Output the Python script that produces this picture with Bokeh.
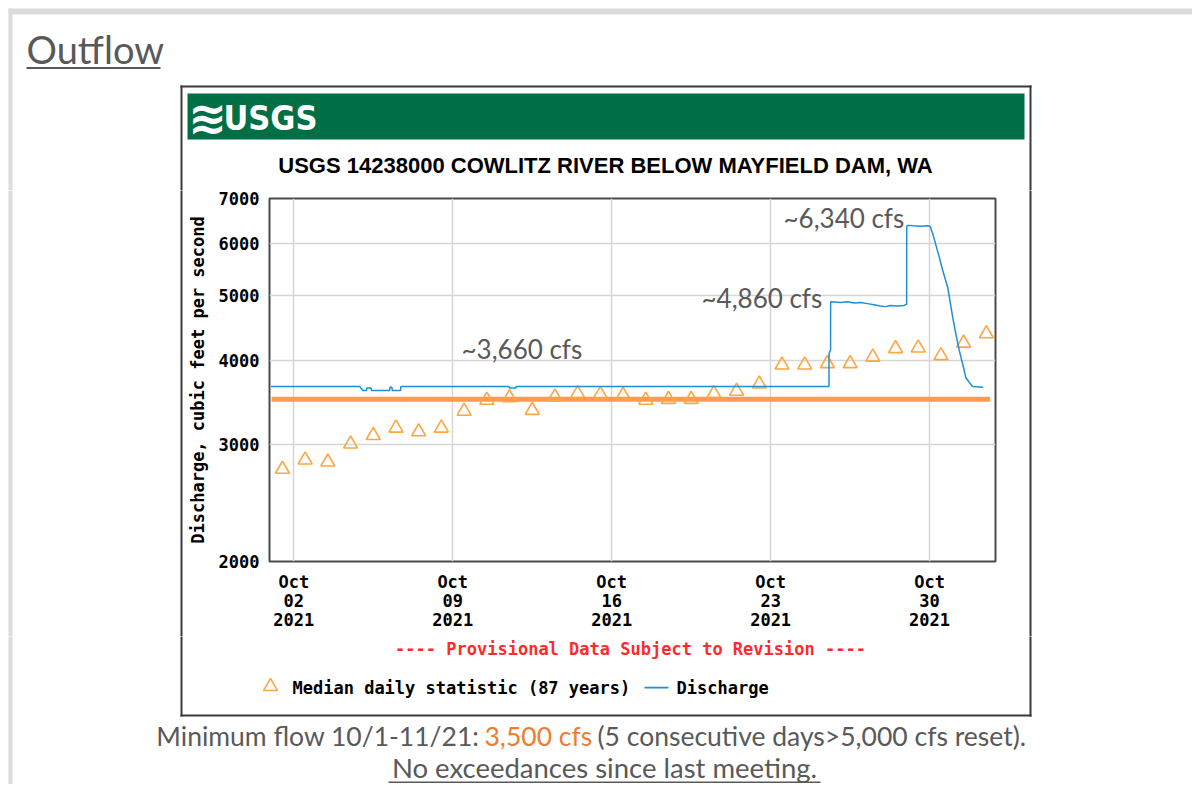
import pandas as pd
from bokeh.plotting import figure
from bokeh.layouts import column, row
from bokeh.models import (Label, FixedTicker, DatetimeTickFormatter, NumeralTickFormatter, Range1d,
                          Plot)
from bokeh.embed import file_html
from bokeh.resources import INLINE

# ---------------- data ----------------
median_dates = ["2021-10-01", "2021-10-02", "2021-10-03", "2021-10-04", "2021-10-05", "2021-10-06",
                "2021-10-07", "2021-10-08", "2021-10-09", "2021-10-10", "2021-10-11", "2021-10-12",
                "2021-10-13", "2021-10-14", "2021-10-15", "2021-10-16", "2021-10-17", "2021-10-18",
                "2021-10-19", "2021-10-20", "2021-10-21", "2021-10-22", "2021-10-23", "2021-10-24",
                "2021-10-25", "2021-10-26", "2021-10-27", "2021-10-28", "2021-10-29", "2021-10-30",
                "2021-10-31", "2021-11-01"]
median_cfs = [2750, 2840, 2820, 3000, 3090, 3170, 3130, 3170, 3360, 3490, 3520, 3370, 3530, 3570,
              3560, 3550, 3490, 3500, 3500, 3570, 3600, 3690, 3940, 3940, 3960, 3960, 4050, 4170,
              4180, 4070, 4250, 4390]

discharge_times = ["2021-10-01 00:00", "2021-10-04 21:35", "2021-10-04 22:50", "2021-10-05 01:10",
                   "2021-10-05 04:50", "2021-10-05 05:15", "2021-10-05 09:35", "2021-10-05 10:05",
                   "2021-10-06 05:15", "2021-10-06 05:45", "2021-10-06 07:40", "2021-10-06 08:10",
                   "2021-10-06 16:50", "2021-10-06 17:15", "2021-10-11 11:30", "2021-10-11 12:00",
                   "2021-10-11 18:40", "2021-10-11 19:10", "2021-10-25 13:40", "2021-10-25 13:45",
                   "2021-10-25 15:20", "2021-10-25 15:25", "2021-10-26 01:55", "2021-10-26 09:05",
                   "2021-10-26 16:05", "2021-10-26 23:15", "2021-10-27 06:15", "2021-10-27 13:10",
                   "2021-10-27 20:10", "2021-10-28 01:25", "2021-10-28 06:45", "2021-10-28 13:55",
                   "2021-10-28 20:55", "2021-10-28 23:45", "2021-10-28 23:50", "2021-10-29 01:10",
                   "2021-10-29 07:10", "2021-10-29 14:25", "2021-10-29 21:35", "2021-10-30 00:30",
                   "2021-10-30 03:20", "2021-10-30 10:20", "2021-10-30 13:55", "2021-10-30 19:10",
                   "2021-10-31 00:30", "2021-10-31 03:50", "2021-10-31 07:25", "2021-10-31 11:00",
                   "2021-10-31 14:25", "2021-10-31 18:00", "2021-10-31 21:35", "2021-11-01 08:40"]
discharge_cfs = [3660, 3660, 3640, 3610, 3610, 3640, 3640, 3610,
                 3610, 3650, 3650, 3610, 3610, 3660, 3660, 3640,
                 3640, 3660, 3660, 4100, 4150, 4900, 4890, 4900,
                 4880, 4890, 4870, 4850, 4830, 4820, 4840, 4830,
                 4840, 4860, 6360, 6380, 6370, 6360, 6370, 6360,
                 6200, 5710, 5460, 5150, 4640, 4380, 4140, 3950,
                 3770, 3710, 3660, 3650]

minflow_times = ["2021-10-01 00:30", "2021-11-01 16:00"]
minflow_cfs = [3500, 3500]

y_ticks = [2000, 3000, 4000, 5000, 6000, 7000]
x_tick_dates = ["2021-10-02", "2021-10-09", "2021-10-16", "2021-10-23", "2021-10-30"]
callout_text = ["~3,660 cfs", "~4,860 cfs", "~6,340 cfs"]

# ---------------- layout constants (page pixels) ----------------
PW, PH = 1192, 784          # whole page
FL, FR, FT, FB = 268, 995, 198, 561   # plot frame
MX0, MX1 = 184, 1005        # main figure horizontal extent
MY0, MY1 = 190, 636         # main figure vertical extent

MONO = "DejaVu Sans Mono"
SLIDE = "Lato"
GRAY = "#595959"
ORANGE_LINE = "#FF9955"
TRI = "#FFA640"
BLUE = "#1E8FD5"
HAS_FRAME_ALIGN = "frame_align" in Plot.properties()


def no_align(f):
    if HAS_FRAME_ALIGN:
        f.frame_align = False


# ---------------- main chart ----------------
p = figure(width=MX1 - MX0, height=MY1 - MY0, x_axis_type="datetime", y_axis_type="log",
           x_range=Range1d(pd.Timestamp("2021-09-30 22:20"), pd.Timestamp("2021-11-01 21:40")),
           y_range=Range1d(2000, 7000), title_location=None,
           output_backend="svg", toolbar_location=None,
           min_border_left=FL - MX0, min_border_right=MX1 - FR,
           min_border_top=FT - MY0, min_border_bottom=MY1 - FB)
no_align(p)
p.background_fill_color = "white"
p.border_fill_color = "white"
p.outline_line_color = "#4a4a4a"
p.outline_line_width = 2

for ax in (p.xaxis[0], p.yaxis[0]):
    ax.axis_line_color = None
    ax.major_tick_line_color = None
    ax.minor_tick_line_color = None
    ax.major_tick_out = 0
    ax.major_tick_in = 0
    ax.minor_tick_out = 0
    ax.minor_tick_in = 0
    ax.major_label_text_font = MONO
    ax.major_label_text_font_style = "bold"
    ax.major_label_text_font_size = "17px"
    ax.major_label_text_color = "black"

p.yaxis.ticker = FixedTicker(ticks=y_ticks)
p.yaxis.formatter = NumeralTickFormatter(format="0")
p.yaxis.major_label_standoff = 10
p.yaxis.axis_label = "Discharge, cubic feet per second"
p.yaxis.axis_label_text_font = MONO
p.yaxis.axis_label_text_font_style = "bold"
p.yaxis.axis_label_text_font_size = "17px"
p.yaxis.axis_label_text_color = "black"
p.yaxis.axis_label_standoff = 8

x_ticks_ms = [pd.Timestamp(d).value / 1e6 for d in x_tick_dates]
p.xaxis.ticker = FixedTicker(ticks=x_ticks_ms)
p.xaxis.formatter = DatetimeTickFormatter(days="%b\n%d\n%Y", months="%b\n%d\n%Y",
                                          hours="%b\n%d\n%Y")
p.xaxis.major_label_standoff = 10
p.xaxis.major_label_text_line_height = 0.97

p.ygrid.ticker = FixedTicker(ticks=y_ticks)
p.xgrid.ticker = FixedTicker(ticks=x_ticks_ms)
for g in (p.xgrid[0], p.ygrid[0]):
    g.grid_line_color = "#d6d6d6"
    g.grid_line_width = 1.5
    g.minor_grid_line_color = None

p.line(pd.to_datetime(minflow_times), minflow_cfs, line_color=ORANGE_LINE, line_width=5)
p.scatter(pd.to_datetime(median_dates) + pd.Timedelta(hours=12), median_cfs, marker="triangle",
          size=14, fill_color=None, line_color=TRI, line_width=1.6)
p.line(pd.to_datetime(discharge_times), discharge_cfs, line_color=BLUE, line_width=1.5)

# callouts inside the plot frame (screen units relative to frame)
for X, Y, t in [(460, 348, callout_text[0]), (700, 297, callout_text[1]), (782, 217, callout_text[2])]:
    p.add_layout(Label(x=X - FL, y=FB - Y, x_units="screen", y_units="screen", text=t,
                       text_font=SLIDE, text_font_size="26px", text_color=GRAY,
                       text_baseline="middle"))


# ---------------- decorative panels (page-pixel coordinates) ----------------
def decor(x0, x1, y0, y1):
    f = figure(width=x1 - x0, height=y1 - y0, x_range=Range1d(x0, x1), y_range=Range1d(y1, y0),
               output_backend="svg", toolbar_location=None, min_border=0, title_location=None,
               x_axis_location=None, y_axis_location=None)
    no_align(f)
    f.grid.visible = False
    f.outline_line_color = None
    f.background_fill_color = "white"
    f.border_fill_color = "white"
    return f


def rect(f, L, T, R, B, color):
    f.quad(left=[L], right=[R], top=[T], bottom=[B], fill_color=color, line_color=None)


def text(f, X, Y, t, size, color="black", font=MONO, style="normal", align="left",
         baseline="middle"):
    f.add_layout(Label(x=X, y=Y, text=t, text_font=font, text_font_size=f"{size}px",
                       text_font_style=style, text_color=color, text_align=align,
                       text_baseline=baseline))


BAND = "#dcdcdc"
BORDER = "#3a3a3a"
top = decor(0, PW, 0, MY0)
left = decor(0, MX0, MY0, MY1)
right = decor(MX1, PW, MY0, MY1)
bottom = decor(0, PW, MY1, PH)

# slide bands
rect(top, 8, 8, PW, 14, BAND)
for f in (top, left, bottom):
    rect(f, 8, 8, 12, PH, BAND)

# chart box border
rect(top, 180, 85, 1031, 87, BORDER)
for f in (top, left, bottom):
    rect(f, 180, 85, 182, 716, BORDER)
for f in (top, right, bottom):
    rect(f, 1029, 85, 1031, 716, BORDER)
rect(bottom, 180, 714, 1031, 716, BORDER)

# heading
text(top, 26, 48.5, "Outflow", 38, color=GRAY, font=SLIDE)
rect(top, 26, 66.5, 160, 68.5, GRAY)

# banner
rect(top, 187, 93, 1024, 139, "#006F45")
text(top, 207, 117, "\u224b", 46, color="white", font="DejaVu Sans", style="bold", align="center")
text(top, 223, 117, "USGS", 34, color="white",
     font="'DejaVu Sans Condensed', 'Liberation Sans', sans-serif", style="bold")

# title
text(top, 605, 165, "USGS 14238000 COWLITZ RIVER BELOW MAYFIELD DAM, WA", 22,
     font="Liberation Sans", style="bold", align="center")

# provisional note
text(bottom, 630, 648, "---- Provisional Data Subject to Revision ----", 17, color="#FF2B2B",
     style="bold", align="center")

# legend
bottom.scatter([270], [686], marker="triangle", size=14, fill_color=None, line_color=TRI,
               line_width=1.6)
text(bottom, 292, 687, "Median daily statistic (87 years)", 17, style="bold")
rect(bottom, 644, 686.3, 668, 688, BLUE)
text(bottom, 676, 687, "Discharge", 17, style="bold")

# footer
text(bottom, 479, 735, "Minimum flow 10/1-11/21:", 26.5, color=GRAY, font=SLIDE, align="right")
text(bottom, 484, 735, "3,500 cfs", 26.5, color="#ED7D31", font=SLIDE)
text(bottom, 597, 735, "(5 consecutive days>5,000 cfs reset).", 26.5, color=GRAY, font=SLIDE)
text(bottom, 604, 767, "No exceedances since last meeting.", 27.5, color=GRAY, font=SLIDE,
     align="center")
rect(bottom, 388, 781, 820, 782.5, GRAY)

layout = column(top, row(left, p, right), bottom)
open("out.html", "w").write(file_html(layout, INLINE))
